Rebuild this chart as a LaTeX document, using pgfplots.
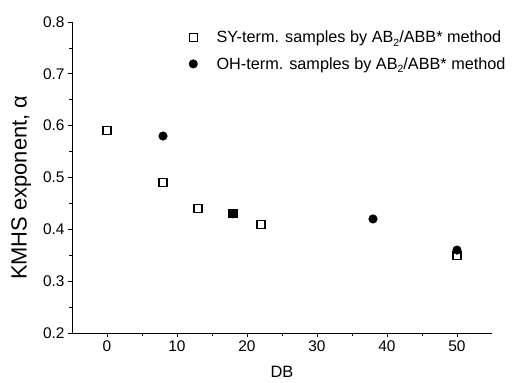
\documentclass[border=0pt]{standalone}
\usepackage{fontspec}
\setmainfont{Liberation Sans}
\usepackage{pgfplots}
\pgfplotsset{compat=1.18}
\begin{document}
\begin{tikzpicture}[x=1bp,y=1bp]
\path[use as bounding box] (-72bp,-50bp) rectangle (441bp,333bp);
\begin{axis}[
  at={(0,0)}, anchor=south west,
  scale only axis,
  width=420bp, height=311bp,
  xmin=-5, xmax=55, ymin=0.2, ymax=0.8,
  axis lines=left,
  axis line style={-, line width=0.8pt},
  tick align=outside,
  xtick={0,10,...,50}, ytick={0.2,0.3,...,0.8},
  minor x tick num=1, minor y tick num=1,
  major tick length=4bp, minor tick length=2.5bp,
  tick style={line width=0.8pt, black},
  tick label style={font=\fontsize{15.5}{17}\selectfont},
  /pgf/number format/assume math mode=true,
  yticklabel style={/pgf/number format/fixed, /pgf/number format/precision=1, /pgf/number format/fixed zerofill},
  xlabel={DB}, ylabel={KMHS exponent, α},
  xlabel style={font=\fontsize{16.5}{18}\selectfont, yshift=-8bp},
  ylabel style={font=\fontsize{22}{24}\selectfont, at={(ticklabel cs:0.467)}, yshift=5bp},
  legend style={draw=none, fill=none, at={(0.278,0.978)}, anchor=north west,
    font=\fontsize{16.3}{18}\selectfont, row sep=9bp, inner sep=0pt,
    nodes={inner xsep=19bp}},
  legend cell align=left,
  legend image code/.code={\draw[mark repeat=2,mark phase=2] plot coordinates {(0bp,0bp)(9bp,0bp)(18bp,0bp)};},
]
\addplot[only marks, mark=square, mark size=4bp, mark options={line width=1.1pt, fill=white}, black]
  coordinates {(0,0.59)(8,0.49)(13,0.44)(18,0.43)(22,0.41)(50,0.35)};
\addlegendentry{SY-term. samples by AB\raisebox{-0.4ex}{\fontsize{10.5}{11}\selectfont 2}/ABB* method}
\addplot[only marks, mark=*, mark size=4.3bp, black]
  coordinates {(8,0.58)(18,0.43)(38,0.42)(50,0.36)};
\addlegendentry{OH-term. samples by AB\raisebox{-0.4ex}{\fontsize{10.5}{11}\selectfont 2}/ABB* method}
\end{axis}
\end{tikzpicture}
\end{document}
